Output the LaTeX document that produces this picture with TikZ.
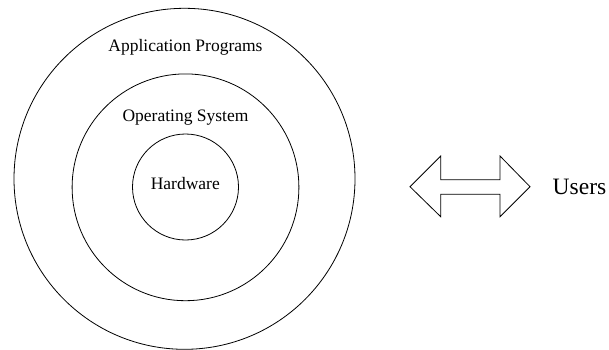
\documentclass[tikz,border=0pt]{standalone}
\usepackage{fontspec}
\setmainfont{Liberation Serif}
\begin{document}
\begin{tikzpicture}[x=1pt,y=-1pt,
  ring/.style={draw=black,line width=0.8pt},
  lbl/.style={font=\fontsize{17.5}{20}\selectfont,inner sep=0pt,anchor=base},
  biglbl/.style={font=\fontsize{23.5}{27}\selectfont,inner sep=0pt,anchor=base west},
  dblarrow/.style={draw=black,line width=0.8pt,line join=miter}]
\useasboundingbox (0,0) rectangle (609,349);
\draw[ring] (184.5,178.8) circle[radius=170.5];
\draw[ring] (185.5,187.3) circle[radius=113.4];
\draw[ring] (185.5,187) circle[radius=53];
\node[lbl] (app) at (185.5,51) {Application Programs};
\node[lbl] (os) at (185.5,121) {Operating System};
\node[lbl] (hw) at (185.3,189) {Hardware};
\node[biglbl] (users) at (552.5,194.3) {Users};
\coordinate (lt) at (410,186.7);
\coordinate (rt) at (530,186.7);
\draw[dblarrow] (lt) -- ++(30.7,-30.7) -- ++(0,23.7) -- ++(59.3,0) -- ++(0,-23.7)
  -- (rt) -- ++(-30,30) -- ++(0,-22.4) -- ++(-59.3,0) -- ++(0,22.4) -- cycle;
\end{tikzpicture}
\end{document}
